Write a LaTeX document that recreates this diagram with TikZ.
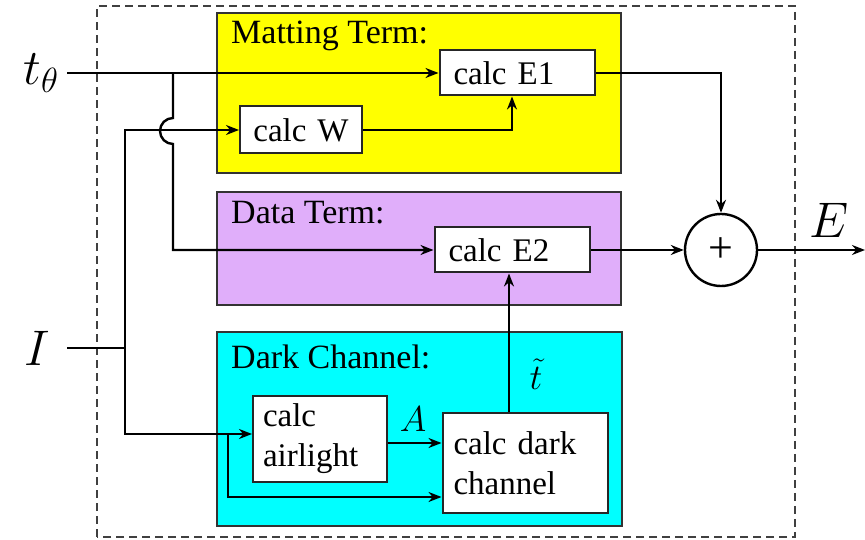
\RequirePackage{fix-cm}
\documentclass[tikz,border=0pt]{standalone}
\usepackage{fontspec}
\setmainfont{Liberation Serif}
\newfontfamily\blockfont{Liberation Serif}
\usetikzlibrary{arrows.meta, positioning}
\definecolor{mattingcol}{RGB}{255,255,0}
\definecolor{datacol}{RGB}{224,174,250}
\definecolor{darkcol}{RGB}{0,255,255}
\def\Hbox{45pt}
\def\Pad{14pt}
\tikzstyle{every node} = [font=\blockfont\fontsize{33}{40}\selectfont]
\tikzstyle{every path} = [line width=2.4pt]
\tikzstyle{arrow} = [line width=2.4pt, -{Stealth[length=13pt,width=10pt]}]
\tikzstyle{frame} = [line width=2pt, draw=black!75, dash pattern=on 8pt off 5pt]
\tikzstyle{term} = [rectangle, draw=black!80, line width=2pt, inner sep=0pt]
\tikzstyle{title} = [anchor=base west, inner sep=0pt, font=\blockfont\fontsize{34}{40}\selectfont]
\tikzstyle{process} = [rectangle, draw=black!85, fill=white, line width=2pt, minimum height=\Hbox, align=left, inner xsep=\Pad, inner ysep=2pt]
\tikzstyle{bigmath} = [font=\fontsize{50}{55}\selectfont]
\tikzstyle{smallmath} = [font=\fontsize{36}{40}\selectfont]

\begin{document}
\begin{tikzpicture}[x=1pt, y=1pt]
\useasboundingbox (0,0) rectangle (865,540);
% Frame
    \draw [frame] (97,3) rectangle (795,534);
% Objects
    % Terms
    \node (matt) [term, fill=mattingcol, minimum width=404pt, minimum height=160pt] at (419,447)   {};
    \node (data) [term, fill=datacol,    minimum width=404pt, minimum height=113pt] at (419,291.5) {};
    \node (dch)  [term, fill=darkcol,    minimum width=405pt, minimum height=194pt] at (419.5,111) {};
    \node [title] at ([xshift=14pt, yshift=-32pt]matt.north west) {Matting Term:};
    \node [title] at ([xshift=14pt, yshift=-33pt]data.north west) {Data Term:};
    \node [title] at ([xshift=14pt, yshift=-38pt]dch.north west)  {Dark Channel:};
    % Blocks
    \node (e1)   [process, text width=155pt-2*\Pad] at (517,467) {calc E1};
    \node (w)    [process, text width=122pt-16pt, minimum height=47pt, inner xsep=8pt, align=center] at (301,410) {calc W};
    \node (e2)   [process, text width=155pt-2*\Pad] at (512,290) {calc E2};
    \node (air)  [process, text width=134pt-20pt, minimum height=86pt, inner xsep=10pt] at (320,101) {calc\\airlight};
    \node (dark) [process, text width=165pt-22pt, minimum height=100pt, inner xsep=11pt] at (525,77) {calc dark\\channel};
    \node (sum)  [circle, draw, fill=white, minimum size=72pt, inner sep=0pt, font=\blockfont\fontsize{44}{44}\selectfont] at (721,290) {+};
    % Inputs and output
    \coordinate (tin)    at (67,467);
    \coordinate (tsplit) at (173,467);
    \coordinate (iin)    at (67,192);
    \coordinate (isplit) at (125,192);
    \coordinate (asplit) at (228,106);
    \coordinate (out)    at (865,290);

% Arrows
    % t_theta into both terms
    \draw [arrow] (tin) -- (e1);
    \draw [arrow] (tsplit) -- ++(0,-45) arc[start angle=90, end angle=270, radius=13] |- (e2);
    % I into matting and dark channel
    \draw (iin) -- (isplit);
    \draw [arrow] (isplit) |- (w);
    \draw [arrow] (isplit) |- ([yshift=5pt]air.west);
    \draw [arrow] (asplit) |- ([yshift=-34pt]dark.west);
    % Dark channel
    \draw [arrow] ([yshift=-4pt]air.east) -- ([yshift=-4pt]air.east -| dark.west);
    \draw [arrow] ([xshift=-16pt]dark.north) -- ([xshift=-16pt]dark.north |- e2.south);
    % Matting term
    \draw [arrow] (w) -| ([xshift=-5pt]e1.south);
    % Sum
    \draw [arrow] (e1) -| (sum);
    \draw [arrow] (e2) -- (sum);
    \draw [arrow] (sum) -- (out);

% Signal names
    \node [bigmath, left=4pt of tin]  {$t_\theta$};
    \node [bigmath, left=12pt of iin] {$I$};
    \node [bigmath] at (829,320)      {$E$};
    \node [smallmath] at (413,121)    {$A$};
    \node [smallmath] at (536,166)    {$\tilde{t}$};
\end{tikzpicture}
\end{document}
